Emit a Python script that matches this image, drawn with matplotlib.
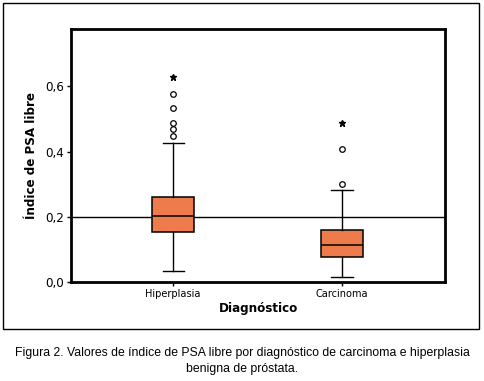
import matplotlib
matplotlib.use("Agg")
import matplotlib.pyplot as plt
from matplotlib.patches import Rectangle

plt.rcParams['font.family'] = ['DejaVu Sans']
plt.rcParams['font.stretch'] = 'condensed'

categories = ["Hiperplasia", "Carcinoma"]
q1 = [0.152, 0.078]
median = [0.201, 0.114]
q3 = [0.261, 0.158]
whisker_low = [0.035, 0.016]
whisker_high = [0.425, 0.281]
outliers = [[0.447, 0.469, 0.488, 0.534, 0.576], [0.301, 0.409]]
extremes = [[0.629], [0.489]]
ref_line = 0.2
yticks = [0.0, 0.2, 0.4, 0.6]
ytick_labels = ["0,0", "0,2", "0,4", "0,6"]

fig = plt.figure(figsize=(4.84, 3.81), dpi=100)
ax = fig.add_axes([71/484, 1-282/381, (445-71)/484, (282-29)/381])

stats = []
for i, c in enumerate(categories):
    stats.append(dict(label=c, q1=q1[i], med=median[i], q3=q3[i],
                      whislo=whisker_low[i], whishi=whisker_high[i],
                      fliers=outliers[i]))
pos = [1, 2]
ax.bxp(stats, positions=pos, widths=0.25, patch_artist=True,
       boxprops=dict(facecolor="#EE7B4C", edgecolor="black", linewidth=1.1),
       medianprops=dict(color="black", linewidth=1.1),
       whiskerprops=dict(color="black", linewidth=1.0),
       capprops=dict(color="black", linewidth=1.0),
       capwidths=0.125,
       flierprops=dict(marker='o', markersize=4, markerfacecolor='white',
                       markeredgecolor='black', markeredgewidth=0.9))
for i, ex in enumerate(extremes):
    ax.plot([pos[i]]*len(ex), ex, linestyle='none', marker='*', markersize=5,
            color='black')

ax.axhline(ref_line, color='black', linewidth=1.0, zorder=0.5)
ax.set_xlim(0.395, 2.61)
ax.set_ylim(0, 0.776)
ax.set_yticks(yticks)
ax.set_yticklabels(ytick_labels, fontsize=9.5)
ax.set_xticks(pos)
ax.set_xticklabels(categories, fontsize=7.8)
for s in ax.spines.values():
    s.set_linewidth(2)
ax.tick_params(axis='both', direction='out', length=3, width=1, pad=2)
ax.set_ylabel("Índice de PSA libre", fontsize=9.5, fontweight='bold', labelpad=5.5)
ax.set_xlabel("Diagnóstico", fontsize=9.5, fontweight='bold', labelpad=2)

fig.patches.append(Rectangle((3/484, 1-329/381), 476/484, 326/381,
                             transform=fig.transFigure, fill=False,
                             edgecolor='black', linewidth=1.0))
cap_kw = dict(ha='center', va='center', fontsize=8.8, family='Liberation Sans', stretch='normal')
fig.text(0.5, 1-353/381, "Figura 2. Valores de índice de PSA libre por diagnóstico de carcinoma e hiperplasia", **cap_kw)
fig.text(0.5, 1-369/381, "benigna de próstata.", **cap_kw)

fig.savefig("out.png", dpi=100)
